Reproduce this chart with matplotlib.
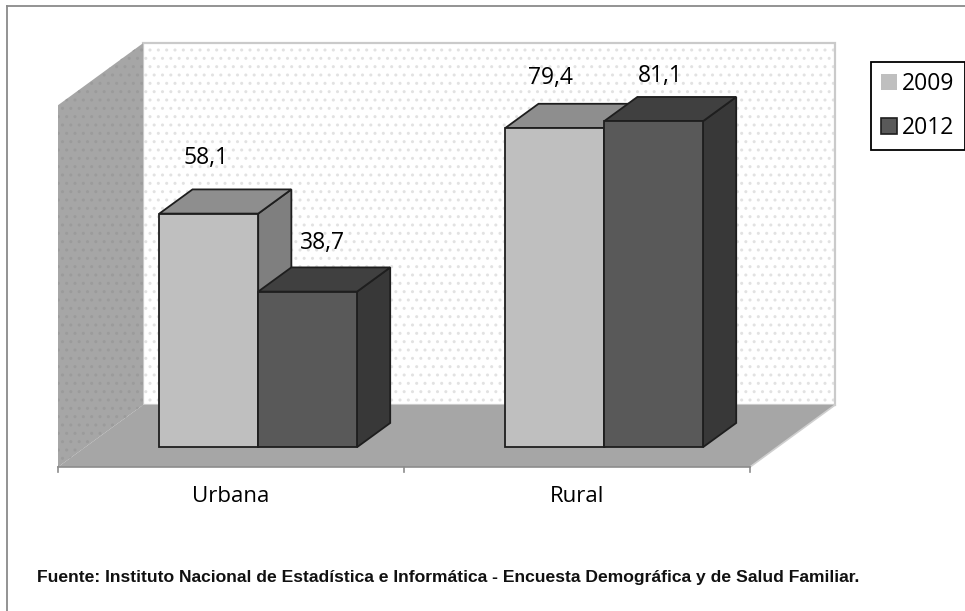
import matplotlib
matplotlib.use("Agg")
import matplotlib.pyplot as plt
from matplotlib.patches import Polygon, Patch
from matplotlib.lines import Line2D
from matplotlib import font_manager

# datos
categorias = ['Urbana', 'Rural']
anios = ['2009', '2012']
valores_2009 = [58.1, 79.4]
valores_2012 = [38.7, 81.1]
etiquetas_2009 = ['58,1', '79,4']
etiquetas_2012 = ['38,7', '81,1']
fuente = ('Fuente: Instituto Nacional de Estadística e Informática - '
          'Encuesta Demográfica y de Salud Familiar.')

# colores (frente, tapa, lado)
col_2009 = ('#bfbfbf', '#8e8e8e', '#7f7f7f')
col_2012 = ('#595959', '#404040', '#383838')

# ajuste manual de las etiquetas (pixeles, respecto al centro superior del frente)
desplaz_2009 = [(-2.5, 56), (-4, 50)]
desplaz_2012 = [(14.5, 49), (6.5, 45)]

W, H = 965, 611
px_cat = 346.0      # pixeles por categoria
px_val = 4.02       # pixeles por unidad de valor
x0, y0 = 58, 467    # esquina frontal izquierda del piso (pixeles)
v_max = 90
DX, DY = 85 / px_cat, 62 / px_val   # profundidad total del piso
z0, z1 = 0.32, 0.71                  # profundidad de las barras
ancho = 1 / 3.5                       # ancho de barra (gap 150%)
pt = 72 / 100                         # pixeles -> puntos


def proy(x, v, z):
    return (x + z * DX, v + z * DY)


fig = plt.figure(figsize=(W / 100, H / 100), dpi=100)
ax = fig.add_axes([0, 0, 1, 1])
ax.set_xlim(-x0 / px_cat, (W - x0) / px_cat)
ax.set_ylim(-(H - y0) / px_val, y0 / px_val)
ax.axis('off')

n = len(categorias)

# pared del fondo con puntos
fondo = [proy(0, 0, 1), proy(n, 0, 1), proy(n, v_max, 1), proy(0, v_max, 1)]
ax.add_patch(Polygon(fondo, closed=True, facecolor='white', edgecolor='#e2e2e2',
                     hatch='..', lw=0))
ax.add_patch(Polygon(fondo, closed=True, fill=False, edgecolor='#cacaca', lw=1.6))

# pared lateral
lateral = [proy(0, 0, 0), proy(0, 0, 1), proy(0, v_max, 1), proy(0, v_max, 0)]
ax.add_patch(Polygon(lateral, closed=True, facecolor='#a6a6a6', edgecolor='#9b9b9b',
                     hatch='..', lw=0))

# piso
piso = [proy(0, 0, 0), proy(n, 0, 0), proy(n, 0, 1), proy(0, 0, 1)]
ax.add_patch(Polygon(piso, closed=True, facecolor='#a6a6a6', edgecolor='none'))
ax.plot(*zip(proy(n, 0, 0), proy(n, 0, 1)), color='#cfcfcf', lw=1.2)

# eje de categorias y marcas
ax.plot([0, n], [0, 0], color='#8c8c8c', lw=1.2)
for i in range(n + 1):
    ax.plot([i, i], [0, -5 / px_val], color='#8c8c8c', lw=1.2)


def barra(xl, v, colores):
    xr = xl + ancho
    frente = [proy(xl, 0, z0), proy(xr, 0, z0), proy(xr, v, z0), proy(xl, v, z0)]
    tapa = [proy(xl, v, z0), proy(xr, v, z0), proy(xr, v, z1), proy(xl, v, z1)]
    lado = [proy(xr, 0, z0), proy(xr, 0, z1), proy(xr, v, z1), proy(xr, v, z0)]
    for cara, c in zip((lado, tapa, frente), (colores[2], colores[1], colores[0])):
        ax.add_patch(Polygon(cara, closed=True, facecolor=c, edgecolor='#1e1e1e',
                             lw=1.3, joinstyle='miter'))


fam = ['Open Sans', 'DejaVu Sans']
for i in range(n):
    series = [(valores_2009[i], etiquetas_2009[i], col_2009, desplaz_2009[i]),
              (valores_2012[i], etiquetas_2012[i], col_2012, desplaz_2012[i])]
    for j, (v, et, col, (ddx, ddy)) in enumerate(series):
        xl = i + 0.5 - ancho + j * ancho
        barra(xl, v, col)
        xc, yc = proy(xl + ancho / 2, v, z0)
        ax.annotate(et, (xc, yc), xytext=(ddx * pt, ddy * pt),
                    textcoords='offset points', ha='center', va='center',
                    fontsize=16.5, family=fam, color='black')
    ax.annotate(categorias[i], (i + 0.5, 0), xytext=(0, -29 * pt),
                textcoords='offset points', ha='center', va='center',
                fontsize=16, family=fam)

# leyenda
manijas = [Patch(facecolor=col_2009[0], edgecolor='none'),
           Patch(facecolor=col_2012[0], edgecolor='#1e1e1e', lw=1.2)]
leg = fig.legend(manijas, anios, loc='upper left',
                 bbox_to_anchor=(871 / W, 1 - 62 / H), frameon=True,
                 fancybox=False, edgecolor='black', framealpha=1,
                 prop={'family': fam, 'size': 16.5}, handlelength=0.7,
                 handleheight=0.7, handletextpad=0.2, labelspacing=0.85,
                 borderpad=0.45, borderaxespad=0)
leg.get_frame().set_linewidth(1.3)

# fuente al pie
try:
    font_manager.findfont(font_manager.FontProperties(family='Liberation Sans Narrow'),
                          fallback_to_default=False)
    fam_pie, tam_pie = 'Liberation Sans Narrow', 13.5
except ValueError:
    fam_pie, tam_pie = 'Liberation Sans', 12.6
fig.text(37 / W, 1 - 582 / H, fuente, family=fam_pie, fontsize=tam_pie,
         fontweight='bold', va='baseline', ha='left', color='#111111')

# borde del area del grafico
fig.add_artist(Line2D([7 / W, 7 / W], [0, 1 - 6 / H], transform=fig.transFigure,
                      color='#8a8a8a', lw=1.3))
fig.add_artist(Line2D([7 / W, 1], [1 - 6 / H, 1 - 6 / H], transform=fig.transFigure,
                      color='#8a8a8a', lw=1.3))

fig.savefig('out.png', dpi=100)
